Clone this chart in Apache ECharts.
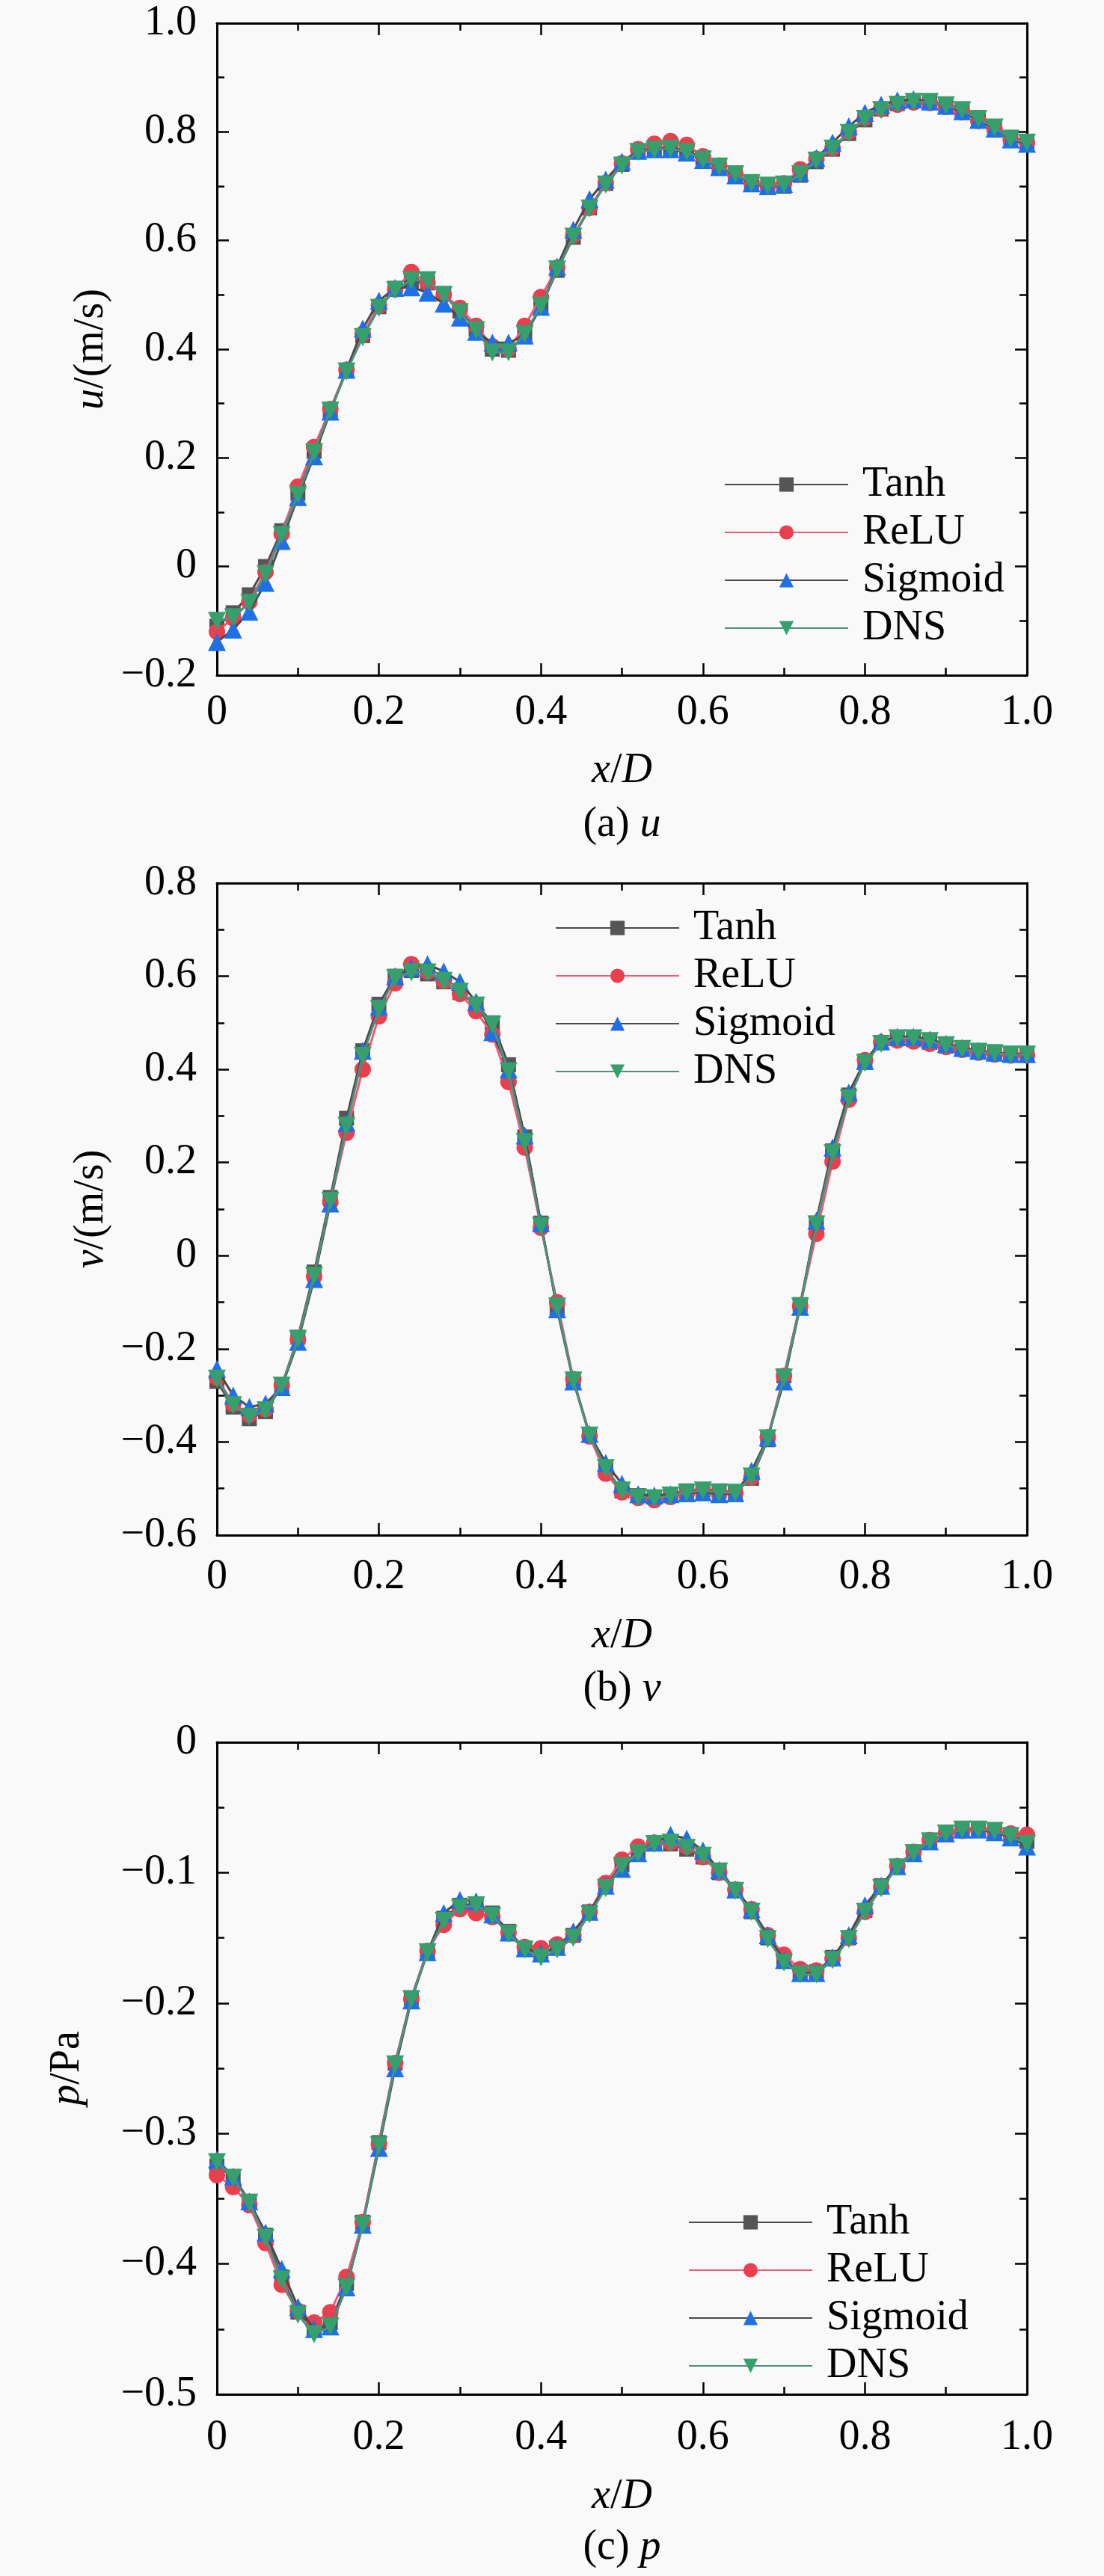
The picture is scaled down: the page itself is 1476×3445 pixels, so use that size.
<!DOCTYPE html>
<html>
<head>
<meta charset="utf-8">
<script src="https://cdn.jsdelivr.net/npm/echarts@6/dist/echarts.min.js"></script>
<style>
  html, body { margin: 0; padding: 0; background: #f9f9f9; }
  #chart { width: 1476px; height: 3445px; }
</style>
</head>
<body>
<div id="chart"></div>
<script>
// x/D sample positions
const xs = [0, 0.02, 0.04, 0.06, 0.08, 0.1, 0.12, 0.14, 0.16, 0.18, 0.2, 0.22, 0.24, 0.26, 0.28, 0.3, 0.32, 0.34, 0.36, 0.38, 0.4,
  0.42, 0.44, 0.46, 0.48, 0.5, 0.52, 0.54, 0.56, 0.58, 0.6, 0.62, 0.64, 0.66, 0.68, 0.7, 0.72, 0.74, 0.76, 0.78, 0.8,
  0.82, 0.84, 0.86, 0.88, 0.9, 0.92, 0.94, 0.96, 0.98, 1.0];

const seriesNames = ['Tanh', 'ReLU', 'Sigmoid', 'DNS'];

// (a) u
const uTanh = [-0.11, -0.085, -0.052, 0.0, 0.066, 0.135, 0.212, 0.288, 0.36, 0.425, 0.478, 0.512, 0.525, 0.522, 0.502, 0.47, 0.437, 0.4, 0.398, 0.425, 0.478,
  0.545, 0.606, 0.66, 0.705, 0.74, 0.765, 0.77, 0.771, 0.765, 0.752, 0.737, 0.722, 0.705, 0.698, 0.7, 0.72, 0.745, 0.768, 0.797, 0.822,
  0.842, 0.852, 0.857, 0.856, 0.85, 0.841, 0.826, 0.81, 0.79, 0.782];
const uRelu = [-0.12, -0.095, -0.065, -0.01, 0.06, 0.147, 0.22, 0.29, 0.362, 0.428, 0.48, 0.51, 0.542, 0.522, 0.5, 0.476, 0.443, 0.405, 0.4, 0.443, 0.496,
  0.55, 0.61, 0.66, 0.706, 0.742, 0.768, 0.778, 0.783, 0.776, 0.755, 0.738, 0.722, 0.707, 0.7, 0.705, 0.731, 0.75, 0.77, 0.8, 0.826,
  0.842, 0.85, 0.854, 0.853, 0.846, 0.836, 0.82, 0.805, 0.785, 0.78];
const uSigmoid = [-0.139, -0.116, -0.083, -0.03, 0.047, 0.128, 0.203, 0.285, 0.362, 0.438, 0.489, 0.513, 0.514, 0.504, 0.484, 0.458, 0.432, 0.412, 0.412, 0.425, 0.478,
  0.552, 0.62, 0.676, 0.712, 0.745, 0.765, 0.768, 0.768, 0.762, 0.748, 0.735, 0.72, 0.705, 0.7, 0.704, 0.725, 0.752, 0.78, 0.81, 0.835,
  0.85, 0.858, 0.86, 0.856, 0.848, 0.838, 0.822, 0.806, 0.786, 0.778];
const uDns = [-0.1, -0.093, -0.067, -0.014, 0.058, 0.132, 0.21, 0.287, 0.359, 0.422, 0.476, 0.509, 0.527, 0.527, 0.5, 0.468, 0.435, 0.394, 0.394, 0.428, 0.48,
  0.547, 0.607, 0.659, 0.703, 0.738, 0.763, 0.767, 0.769, 0.763, 0.749, 0.736, 0.722, 0.706, 0.701, 0.703, 0.722, 0.747, 0.769, 0.798, 0.824,
  0.84, 0.85, 0.855, 0.855, 0.849, 0.84, 0.824, 0.808, 0.787, 0.78];

// (b) v
const vTanh = [-0.27, -0.325, -0.35, -0.335, -0.28, -0.175, -0.035, 0.125, 0.295, 0.44, 0.54, 0.6, 0.612, 0.605, 0.588, 0.565, 0.54, 0.5, 0.41, 0.255, 0.07,
  -0.112, -0.265, -0.384, -0.46, -0.505, -0.515, -0.518, -0.512, -0.505, -0.502, -0.505, -0.508, -0.478, -0.395, -0.258, -0.105, 0.07, 0.225, 0.345, 0.418,
  0.458, 0.466, 0.464, 0.458, 0.45, 0.444, 0.438, 0.435, 0.432, 0.43];
const vRelu = [-0.262, -0.318, -0.342, -0.33, -0.278, -0.18, -0.045, 0.115, 0.264, 0.4, 0.514, 0.585, 0.626, 0.61, 0.59, 0.562, 0.525, 0.475, 0.373, 0.232, 0.06,
  -0.1, -0.265, -0.388, -0.468, -0.508, -0.52, -0.525, -0.518, -0.51, -0.505, -0.51, -0.51, -0.476, -0.39, -0.258, -0.108, 0.047, 0.202, 0.335, 0.42,
  0.458, 0.462, 0.46, 0.455, 0.448, 0.442, 0.436, 0.432, 0.43, 0.43];
const vSigmoid = [-0.243, -0.3, -0.325, -0.318, -0.282, -0.185, -0.05, 0.112, 0.285, 0.44, 0.535, 0.6, 0.618, 0.626, 0.61, 0.588, 0.545, 0.48, 0.4, 0.258, 0.07,
  -0.115, -0.27, -0.383, -0.445, -0.49, -0.512, -0.515, -0.512, -0.51, -0.508, -0.512, -0.51, -0.462, -0.39, -0.27, -0.11, 0.075, 0.232, 0.35, 0.418,
  0.46, 0.47, 0.47, 0.464, 0.455, 0.446, 0.44, 0.436, 0.433, 0.433];
const vDns = [-0.264, -0.321, -0.346, -0.332, -0.279, -0.179, -0.043, 0.118, 0.279, 0.429, 0.53, 0.596, 0.608, 0.608, 0.59, 0.567, 0.537, 0.496, 0.396, 0.244, 0.064,
  -0.109, -0.268, -0.386, -0.456, -0.504, -0.519, -0.521, -0.515, -0.509, -0.504, -0.509, -0.509, -0.474, -0.392, -0.262, -0.109, 0.067, 0.22, 0.338, 0.414,
  0.455, 0.467, 0.467, 0.461, 0.452, 0.444, 0.438, 0.435, 0.432, 0.432];

// (c) p
const pTanh = [-0.325, -0.333, -0.352, -0.378, -0.41, -0.437, -0.45, -0.445, -0.415, -0.368, -0.307, -0.246, -0.196, -0.16, -0.135, -0.125, -0.124, -0.131, -0.145, -0.158, -0.162,
  -0.157, -0.148, -0.13, -0.11, -0.094, -0.084, -0.078, -0.078, -0.082, -0.088, -0.1, -0.114, -0.13, -0.15, -0.167, -0.176, -0.176, -0.165, -0.15, -0.129,
  -0.11, -0.095, -0.084, -0.075, -0.07, -0.067, -0.066, -0.068, -0.071, -0.076];
const pRelu = [-0.332, -0.341, -0.355, -0.384, -0.416, -0.436, -0.445, -0.437, -0.41, -0.368, -0.308, -0.246, -0.197, -0.16, -0.14, -0.128, -0.131, -0.134, -0.146, -0.157, -0.158,
  -0.155, -0.148, -0.13, -0.108, -0.09, -0.08, -0.077, -0.077, -0.08, -0.088, -0.1, -0.113, -0.128, -0.148, -0.163, -0.174, -0.175, -0.166, -0.15, -0.13,
  -0.111, -0.095, -0.084, -0.075, -0.07, -0.068, -0.067, -0.068, -0.07, -0.071];
const pSigmoid = [-0.32, -0.333, -0.352, -0.376, -0.404, -0.433, -0.45, -0.448, -0.418, -0.37, -0.311, -0.25, -0.198, -0.161, -0.131, -0.121, -0.122, -0.132, -0.146, -0.158, -0.162,
  -0.157, -0.145, -0.13, -0.11, -0.097, -0.085, -0.077, -0.071, -0.074, -0.083, -0.098, -0.113, -0.128, -0.148, -0.167, -0.177, -0.177, -0.165, -0.148, -0.125,
  -0.11, -0.095, -0.085, -0.076, -0.07, -0.067, -0.067, -0.069, -0.073, -0.08];
const pDns = [-0.322, -0.334, -0.353, -0.38, -0.412, -0.439, -0.454, -0.448, -0.418, -0.37, -0.309, -0.247, -0.197, -0.161, -0.137, -0.127, -0.125, -0.133, -0.147, -0.159, -0.165,
  -0.159, -0.15, -0.132, -0.112, -0.095, -0.085, -0.078, -0.077, -0.081, -0.087, -0.099, -0.114, -0.13, -0.151, -0.169, -0.178, -0.178, -0.167, -0.151, -0.13,
  -0.112, -0.096, -0.085, -0.076, -0.07, -0.067, -0.067, -0.068, -0.072, -0.078];

const FONT = '"Liberation Serif", "Times New Roman", serif';
const FS = 56;

// look of each model (line colour, marker, marker colour)
const styles = [
  { line: '#4a4a4a', symbol: 'rect', color: '#555555', size: 20 },
  { line: '#ee5b78', symbol: 'circle', color: '#e8404f', size: 22 },
  { line: '#4a4a4a', symbol: 'triangle', color: '#1f6fe6', size: 24 },
  { line: '#4f8f80', symbol: 'path://M0,0 L10,0 L5,9 Z', color: '#35a06c', size: 24 }
];

const panels = [
  { top: 31, ymin: -0.2, ymax: 1.0, step: 0.2, name: '{i|u}/(m/s)', nameGap: 125,
    labelMargin: 22, xNameGap: 100, captionGap: 200,
    data: [uTanh, uRelu, uSigmoid, uDns], legend: { left: 963, top: 615 }, caption: '(a) {i|u}' },
  { top: 1181, ymin: -0.6, ymax: 0.8, step: 0.2, name: '{i|v}/(m/s)', nameGap: 125,
    labelMargin: 28, xNameGap: 107, captionGap: 206,
    data: [vTanh, vRelu, vSigmoid, vDns], legend: { left: 737, top: 1208 }, caption: '(b) {i|v}' },
  { top: 2330, ymin: -0.5, ymax: 0, step: 0.1, name: '{i|p}/Pa', nameGap: 172,
    labelMargin: 30, xNameGap: 109, captionGap: 205,
    data: [pTanh, pRelu, pSigmoid, pDns], legend: { left: 915, top: 2939 }, caption: '(c) {i|p}' }
];

const PLOT_LEFT = 290, PLOT_W = 1083, PLOT_H = 872;

function fmt(v) {
  if (Math.abs(v) < 1e-9) return '0';
  return v.toFixed(1).replace('-', '\u2212');
}

const rich = {
  i: { fontStyle: 'italic', fontFamily: FONT, fontSize: FS, color: '#000' }
};

const axisLine = { show: true, onZero: false, lineStyle: { color: '#000', width: 3 } };
const tick = { show: true, inside: true, length: 16, lineStyle: { color: '#000', width: 2.5 } };
const minor = { show: true, splitNumber: 2, length: 10, lineStyle: { color: '#000', width: 2.5 } };

let option = {
  backgroundColor: '#f9f9f9',
  animation: false,
  textStyle: { fontFamily: FONT },
  grid: [], xAxis: [], yAxis: [], series: [], legend: [], graphic: []
};

panels.forEach((p, k) => {
  option.grid.push({ left: PLOT_LEFT, top: p.top, width: PLOT_W, height: PLOT_H });
  // bottom and top x axes
  option.xAxis.push({
    type: 'value', gridIndex: k, min: 0, max: 1, interval: 0.2, position: 'bottom',
    axisLine: axisLine, axisTick: tick, minorTick: minor, splitLine: { show: false },
    axisLabel: { formatter: fmt, fontFamily: FONT, fontSize: FS, color: '#000', margin: p.labelMargin },
    name: '{i|x}/{i|D}', nameLocation: 'middle', nameGap: p.xNameGap,
    nameTextStyle: { fontFamily: FONT, fontSize: FS, color: '#000', rich: rich }
  });
  option.xAxis.push({
    type: 'value', gridIndex: k, min: 0, max: 1, interval: 0.2, position: 'top',
    axisLine: axisLine, axisTick: tick, minorTick: minor, splitLine: { show: false },
    axisLabel: { show: false }
  });
  // left and right y axes
  option.yAxis.push({
    type: 'value', gridIndex: k, min: p.ymin, max: p.ymax, interval: p.step, position: 'left',
    axisLine: axisLine, axisTick: tick, minorTick: minor, splitLine: { show: false },
    axisLabel: { formatter: fmt, fontFamily: FONT, fontSize: FS, color: '#000', margin: 27 },
    name: p.name, nameLocation: 'middle', nameGap: p.nameGap,
    nameTextStyle: { fontFamily: FONT, fontSize: FS, color: '#000', rich: rich }
  });
  option.yAxis.push({
    type: 'value', gridIndex: k, min: p.ymin, max: p.ymax, interval: p.step, position: 'right',
    axisLine: axisLine, axisTick: tick, minorTick: minor, splitLine: { show: false },
    axisLabel: { show: false }
  });

  p.data.forEach((vals, s) => {
    const st = styles[s];
    option.series.push({
      name: seriesNames[s], type: 'line', xAxisIndex: 2 * k, yAxisIndex: 2 * k,
      data: xs.map((x, i) => [x, vals[i]]),
      symbol: st.symbol, symbolSize: st.size,
      itemStyle: { color: st.color },
      lineStyle: { color: st.line, width: 3 },
      z: 2 + s
    });
  });

  option.legend.push({
    orient: 'vertical', left: p.legend.left, top: p.legend.top,
    data: seriesNames, itemWidth: 165, itemHeight: 24, itemGap: 8,
    selectedMode: false,
    textStyle: { fontFamily: FONT, fontSize: FS, color: '#000', lineHeight: 56, padding: [0, 0, 0, 14] },
    seriesIndex: [4 * k, 4 * k + 1, 4 * k + 2, 4 * k + 3]
  });

  // caption centred under the plot area
  option.graphic.push({
    type: 'text',
    x: PLOT_LEFT + PLOT_W / 2, y: p.top + PLOT_H + p.captionGap,
    style: {
      text: p.caption, rich: rich, fontFamily: FONT, fontSize: FS, fill: '#000',
      align: 'center', verticalAlign: 'middle'
    }
  });
});

const myChart = echarts.init(document.getElementById('chart'));
option && myChart.setOption(option);
</script>
</body>
</html>
